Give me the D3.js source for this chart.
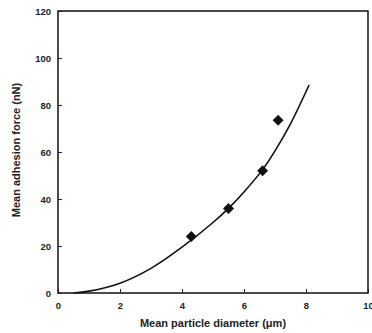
<!DOCTYPE html>
<html><head><meta charset="utf-8">
<script src="https://cdn.jsdelivr.net/npm/d3@7"></script>
<style>body{margin:0;background:#fff}svg{display:block}</style>
</head><body><svg id="c" width="372" height="333"></svg>
<script>
const pointX = [4.3, 5.5, 6.6, 7.1];
const pointY = [24, 36, 52, 73.5];
const curveX = [0.5, 1, 2, 3, 4, 5, 5.5, 6, 6.6, 7, 7.5, 8.1];
const curveY = [0, 0.8, 4.2, 10.5, 19.5, 30, 36, 43, 52.5, 60.5, 72, 88.5];
const xTicks = [0, 2, 4, 6, 8, 10];
const yTicks = [0, 20, 40, 60, 80, 100, 120];

const svg = d3.select("#c");
const m = {l:58, r:368, t:11, b:293};
const x = d3.scaleLinear().domain([0,10]).range([m.l, m.r]);
const y = d3.scaleLinear().domain([0,120]).range([m.b, m.t]);
const font = "Liberation Sans, Arial, sans-serif";

svg.append("rect").attr("x", m.l).attr("y", m.t).attr("width", m.r-m.l).attr("height", m.b-m.t)
  .attr("fill","none").attr("stroke","#111").attr("stroke-width",1.5);

const xAxis = svg.append("g").attr("transform",`translate(0,${m.b})`)
  .call(d3.axisBottom(x).tickValues(xTicks).tickSize(-4).tickPadding(9).tickFormat(d3.format("d")));
const yAxis = svg.append("g").attr("transform",`translate(${m.l},0)`)
  .call(d3.axisLeft(y).tickValues(yTicks).tickSize(-4).tickPadding(7).tickFormat(d3.format("d")));
[xAxis, yAxis].forEach(a => {
  a.select(".domain").remove();
  a.selectAll(".tick line").attr("stroke","#222").attr("stroke-width",1);
  a.selectAll("text").attr("font-family",font).attr("font-size",9.5).attr("font-weight","bold").attr("fill","#222");
});

const line = d3.line().x((d,i)=>x(curveX[i])).y((d,i)=>y(curveY[i])).curve(d3.curveCatmullRom);
svg.append("path").attr("d", line(curveX)).attr("fill","none").attr("stroke","#111").attr("stroke-width",1.6);

svg.selectAll(".pt").data(pointX).enter().append("path")
  .attr("d", d3.symbol().type(d3.symbolSquare).size(60)())
  .attr("transform",(d,i)=>`translate(${x(d)},${y(pointY[i])}) rotate(45)`)
  .attr("fill","#111");

svg.append("text").attr("x", 213).attr("y", 327).attr("text-anchor","middle")
  .attr("font-family",font).attr("font-size",11).attr("font-weight","bold").attr("fill","#222")
  .text("Mean particle diameter (μm)");
svg.append("text").attr("transform","translate(20,150) rotate(-90)").attr("text-anchor","middle")
  .attr("font-family",font).attr("font-size",11).attr("font-weight","bold").attr("fill","#222")
  .text("Mean adhesion force (nN)");
</script></body></html>
